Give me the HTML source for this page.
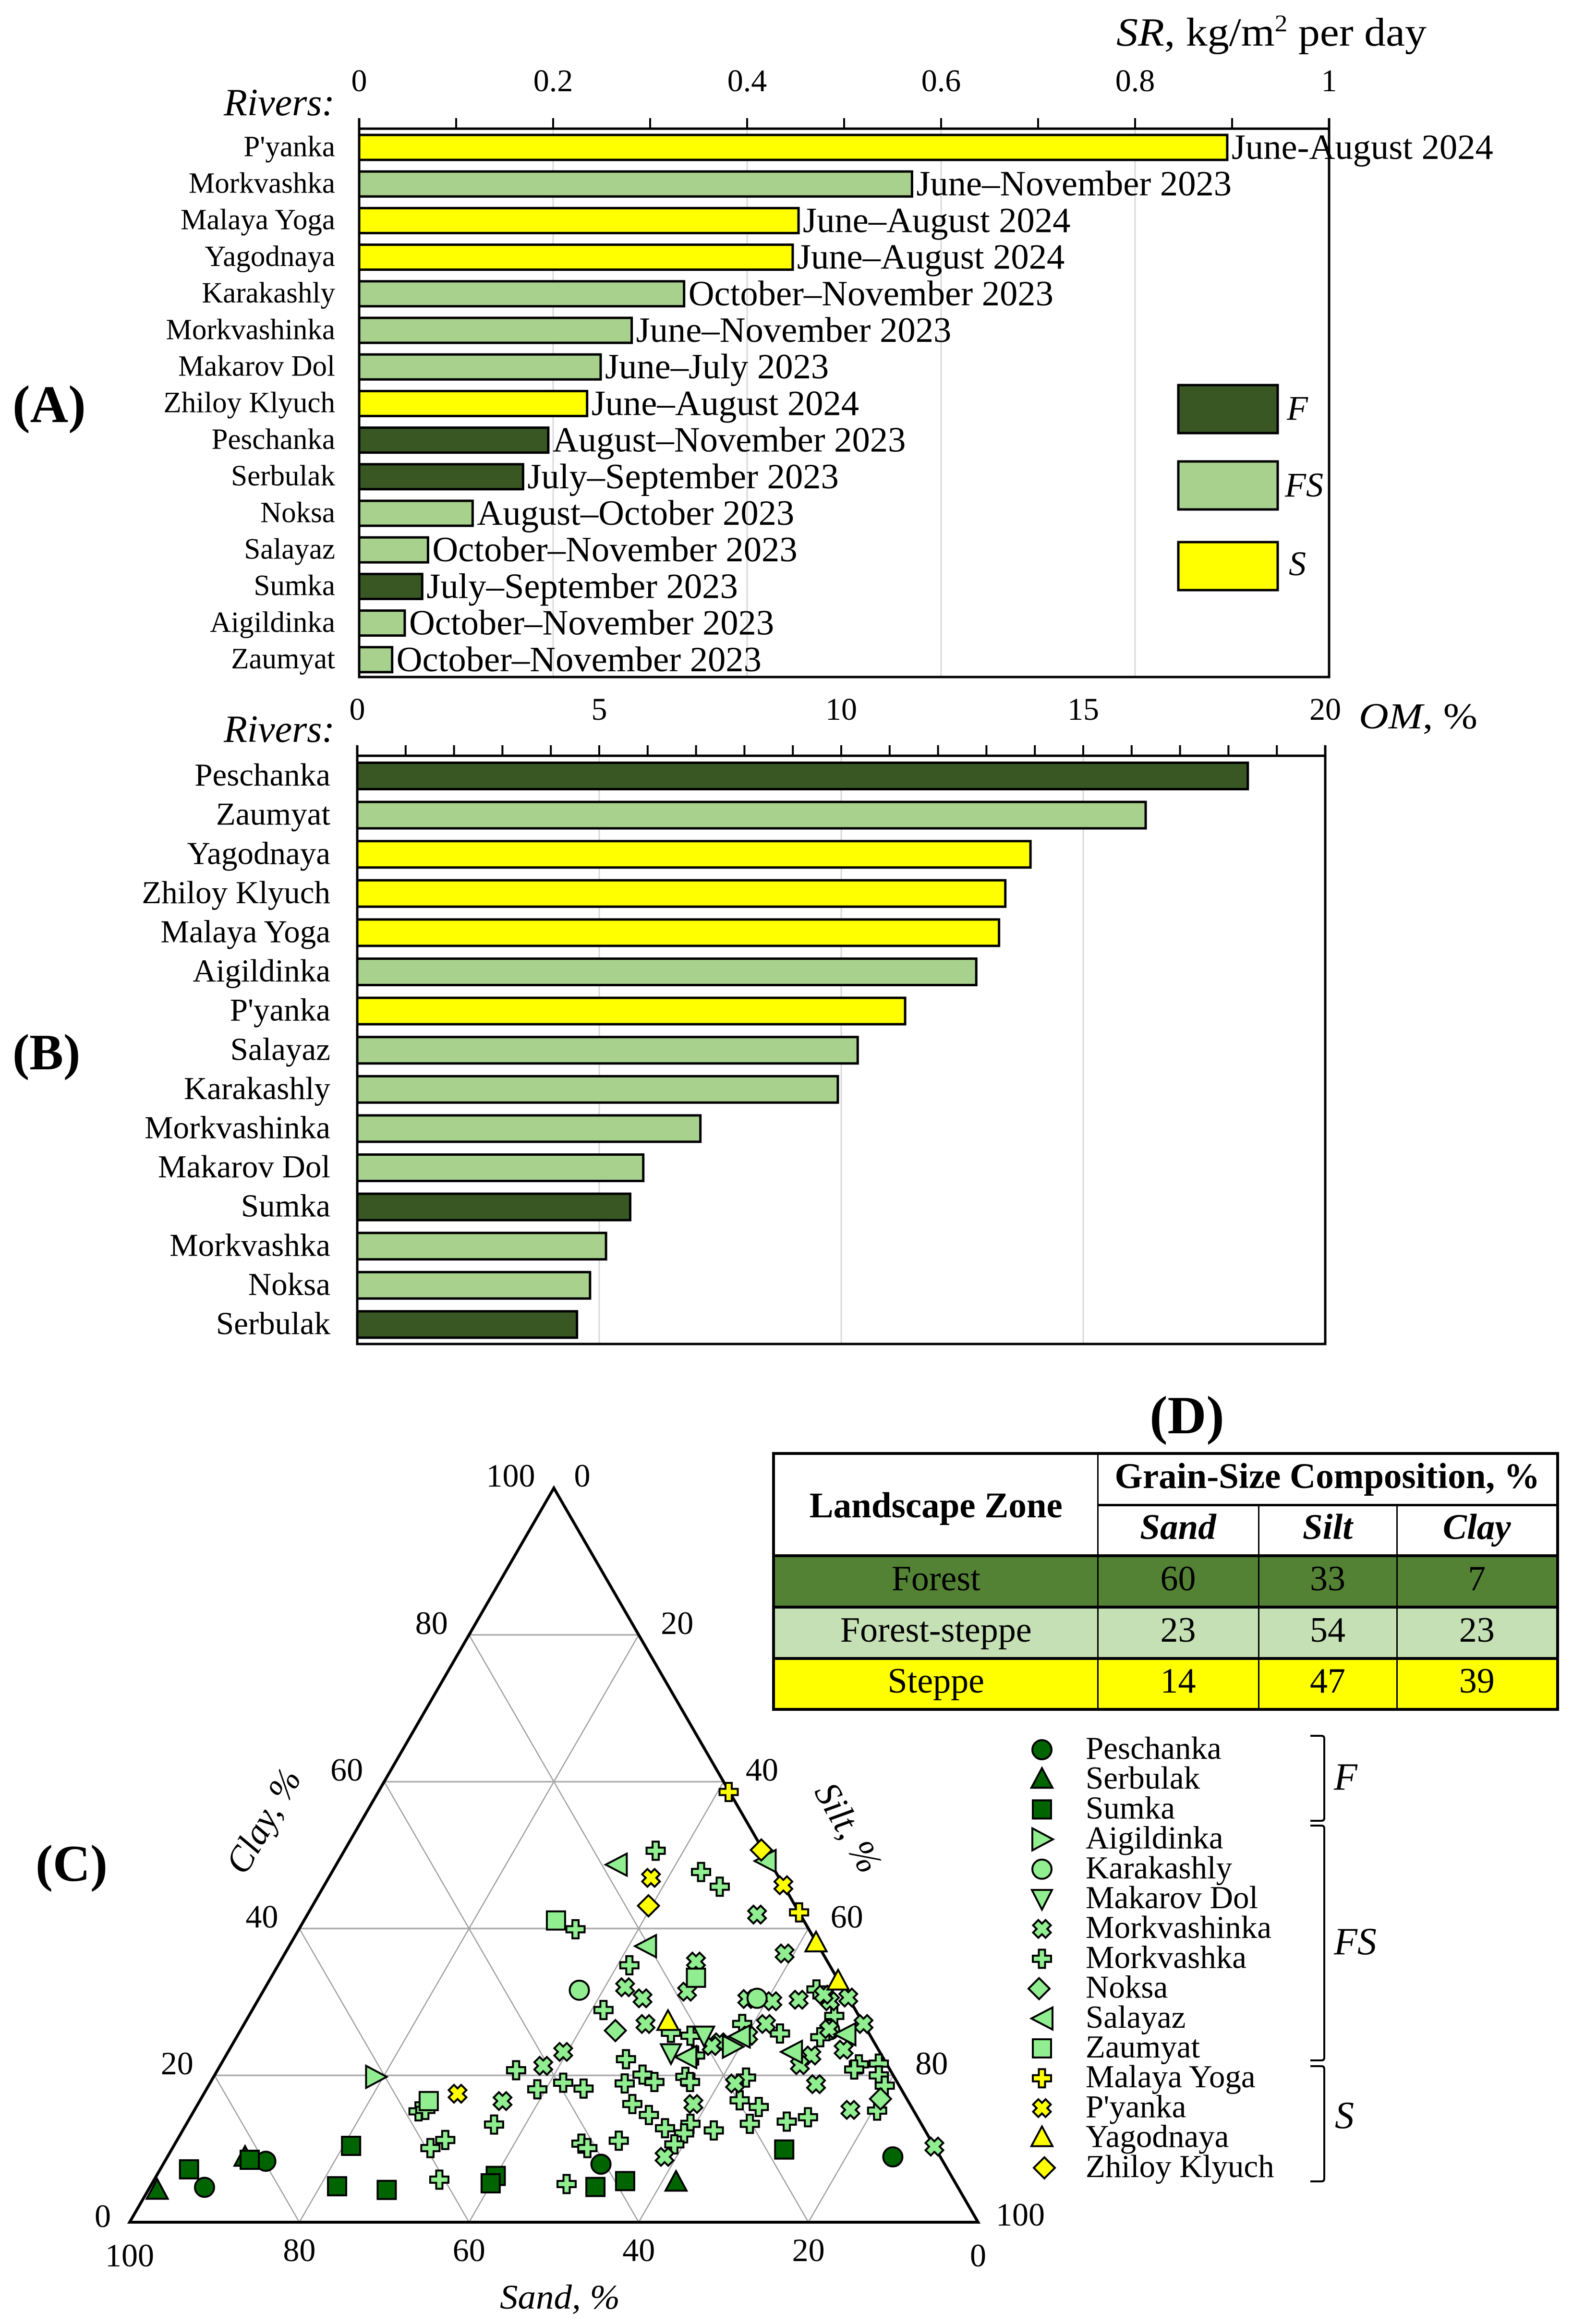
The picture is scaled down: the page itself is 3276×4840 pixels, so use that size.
<!DOCTYPE html>
<html lang="en">
<head>
<meta charset="utf-8">
<title>River sediment charts</title>
<style>
html,body{margin:0;padding:0;background:#fff;}
body{position:relative;width:3276px;height:4840px;overflow:hidden;font-family:"Liberation Serif",serif;color:#000;}
svg{position:absolute;left:0;top:0;}
svg text{font-family:"Liberation Serif",serif;fill:#000;}
table{position:absolute;left:1608px;top:3024px;width:1633px;height:533px;border-collapse:collapse;table-layout:fixed;font-size:74px;line-height:1;text-align:center;}
td,th{padding:0 0 12px 0;border:3px solid #000;overflow:hidden;white-space:nowrap;}
th{font-size:75px;}
table{border:6px solid #000;}
tr.head-row-top td,tr.head-row-top th{border-bottom:5px solid #000;}
tr.head-row-sub th{border-bottom:6px solid #000;}
tr.zone-forest td{background:#548235;border-bottom:6px solid #000;}
tr.zone-fs td{background:#C5E0B4;border-bottom:6px solid #000;}
tr.zone-steppe td{background:#FFFF00;}
</style>
</head>
<body>
<svg id="fig" xmlns="http://www.w3.org/2000/svg" width="3276" height="4840" viewBox="0 0 3276 4840">
  <text x="26" y="879" font-size="110" font-weight="bold">(A)</text>
  <text x="26" y="2227" font-size="106" font-weight="bold">(B)</text>
  <text x="74" y="3917" font-size="108" font-weight="bold">(C)</text>
  <text x="2472" y="2985" font-size="112" font-weight="bold" text-anchor="middle">(D)</text>

  <text x="2325" y="95" font-size="84" textLength="646" lengthAdjust="spacingAndGlyphs"><tspan font-style="italic">SR</tspan>, kg/m<tspan dy="-30" font-size="50">2</tspan><tspan dy="30"> per day</tspan></text>
  <text x="697" y="240" font-size="80" font-style="italic" text-anchor="end">Rivers:</text>
  <text x="2830" y="1517" font-size="76" textLength="247" lengthAdjust="spacingAndGlyphs"><tspan font-style="italic">OM</tspan>, %</text>
  <text x="697" y="1545" font-size="80" font-style="italic" text-anchor="end">Rivers:</text>

  <rect x="2454" y="802" width="207" height="100" fill="#385723" stroke="#000" stroke-width="5"/>
  <rect x="2454" y="961" width="207" height="100" fill="#A9D18E" stroke="#000" stroke-width="5"/>
  <rect x="2454" y="1129" width="207" height="100" fill="#FFFF00" stroke="#000" stroke-width="5"/>
  <text x="2680" y="874" font-size="72" font-style="italic">F</text>
  <text x="2676" y="1034" font-size="72" font-style="italic">FS</text>
  <text x="2684" y="1198" font-size="72" font-style="italic">S</text>

  <text x="1041" y="4808" font-size="72" font-style="italic" textLength="250" lengthAdjust="spacingAndGlyphs">Sand, %</text>
  <text x="570" y="3805" font-size="75" font-style="italic" text-anchor="middle" transform="rotate(-60 570 3805)">Clay, %</text>
  <text x="1745" y="3819" font-size="76" font-style="italic" text-anchor="middle" transform="rotate(60 1745 3819)">Silt, %</text>

  <path d="M2729 3615 H2752 Q2758 3615 2758 3621 V3786 Q2758 3792 2752 3792 H2729" fill="none" stroke="#000" stroke-width="4"/>
  <path d="M2729 3802 H2752 Q2758 3802 2758 3808 V4285 Q2758 4291 2752 4291 H2729" fill="none" stroke="#000" stroke-width="4"/>
  <path d="M2729 4303 H2752 Q2758 4303 2758 4309 V4537 Q2758 4543 2752 4543 H2729" fill="none" stroke="#000" stroke-width="4"/>
  <text x="2778" y="3727" font-size="80" font-style="italic">F</text>
  <text x="2778" y="4070" font-size="80" font-style="italic">FS</text>
  <text x="2780" y="4432" font-size="80" font-style="italic">S</text>
</svg>

<table>
  <colgroup><col style="width:675px"><col style="width:335px"><col style="width:288px"><col style="width:335px"></colgroup>
  <tr class="head-row-top" style="height:107px">
    <th rowspan="2" style="border-bottom:6px solid #000;padding:4px 0 0 0">Landscape Zone</th>
    <th colspan="3">Grain-Size Composition, %</th>
  </tr>
  <tr class="head-row-sub" style="height:106px">
    <th><i>Sand</i></th>
    <th><i>Silt</i></th>
    <th><i>Clay</i></th>
  </tr>
  <tr class="zone-forest" style="height:107px">
    <td>Forest</td>
    <td>60</td>
    <td>33</td>
    <td>7</td>
  </tr>
  <tr class="zone-fs" style="height:107px">
    <td>Forest-steppe</td>
    <td>23</td>
    <td>54</td>
    <td>23</td>
  </tr>
  <tr class="zone-steppe" style="height:106px">
    <td>Steppe</td>
    <td>14</td>
    <td>47</td>
    <td>39</td>
  </tr>
</table>

<script>
// ---- Panel A data ----
const srRivers = ["P'yanka","Morkvashka","Malaya Yoga","Yagodnaya","Karakashly","Morkvashinka","Makarov Dol","Zhiloy Klyuch","Peschanka","Serbulak","Noksa","Salayaz","Sumka","Aigildinka","Zaumyat"];
const srValues = [0.895,0.570,0.453,0.447,0.335,0.281,0.249,0.235,0.195,0.169,0.117,0.071,0.065,0.047,0.034];
const srZones = ["S","FS","S","S","FS","FS","FS","S","F","F","FS","FS","F","FS","FS"];
const srPeriods = ["June-August 2024","June–November 2023","June–August 2024","June–August 2024","October–November 2023","June–November 2023","June–July 2023","June–August 2024","August–November 2023","July–September 2023","August–October 2023","October–November 2023","July–September 2023","October–November 2023","October–November 2023"];
const srTickLabels = ["0","0.2","0.4","0.6","0.8","1"];
const srTickValues = [0,0.2,0.4,0.6,0.8,1];
const srMinorTicks = [0.1,0.3,0.5,0.7,0.9];

// ---- Panel B data ----
const omRivers = ["Peschanka","Zaumyat","Yagodnaya","Zhiloy Klyuch","Malaya Yoga","Aigildinka","P'yanka","Salayaz","Karakashly","Morkvashinka","Makarov Dol","Sumka","Morkvashka","Noksa","Serbulak"];
const omValues = [18.40,16.29,13.91,13.39,13.26,12.79,11.32,10.34,9.93,7.09,5.91,5.64,5.14,4.81,4.54];
const omZones = ["F","FS","S","S","S","FS","S","FS","FS","FS","FS","F","FS","FS","F"];
const omTickLabels = ["0","5","10","15","20"];
const omTickValues = [0,5,10,15,20];
const omMinorTicks = [1,2,3,4,6,7,8,9,11,12,13,14,16,17,18,19];

// ---- Panel C data: sand %, clay % (silt is the remainder) ----
const peschankaSand = [5.6,40.5,88.8,79.8];
const peschankaClay = [8.9,7.9,4.75,8.3];
const serbulakSand = [32.9,94.6,82.0];
const serbulakClay = [5.4,4.3,8.8];
const sumkaSand = [17.9,38.8,42.7,89.4,81.6,68.7,73.1,67.5,53.7,54.8];
const sumkaClay = [9.9,5.6,4.8,7.2,8.5,10.4,4.9,4.4,6.3,5.3];
const aigildinkaSand = [17.0,61.1];
const aigildinkaClay = [23.9,19.8];
const karakashlyUnderSand = [4.4];
const karakashlyUnderClay = [26.2];
const karakashlySand = [31.2,10.8];
const karakashlyClay = [31.6,30.5];
const makarovSand = [19.6,24.7];
const makarovClay = [25.4,23.0];
const morkvashinkaSand = [5.1,4.5,15.5,25.6,24.3,18.6,25.7,37.3,40.6,12.0,9.2,6.0,2.4,2.7,0,0,11.5,14.4,18.2,19.4,4.4,4.1,8.3,10.3,9.7,19.2,25.5,7.4,32.5,0,47.8];
const morkvashinkaClay = [41.9,36.6,35.5,32.0,30.5,31.4,27.0,23.2,21.3,30.4,30.1,30.3,30.1,31.0,30.6,27.0,27.0,25.4,24.5,24.0,26.3,23.5,22.7,21.4,18.8,18.9,16.1,15.3,8.9,10.3,16.5];
const morkvashkaSand = [12.7,8.8,7.6,27.5,23.6,29.7,3.2,2.9,6.0,10.5,14.3,23.3,21.2,22.0,30.4,39.4,37.4,42.9,32.2,29.5,28.6,24.6,24.4,32.7,31.5,30.5,27.2,28.6,30.5,24.9,19.8,17.5,18.0,20.2,15.7,12.9,3.3,4.2,0.9,1.7,1.7,4.3,41.4,41.0,36.8,45.9,58.4,57.5,57.2,59.5,60.6,50.4,44.1];
const morkvashkaClay = [50.6,47.7,45.7,39.9,35.0,28.9,31.7,28.1,25.2,25.7,27.0,25.8,25.4,22.7,22.2,19.0,18.2,18.1,18.9,20.1,19.1,19.8,19.1,16.1,14.6,12.8,13.4,12.1,10.6,12.5,16.6,19.7,15.7,13.4,13.7,14.3,21.5,20.8,21.6,20.0,18.6,15.2,10.7,10.1,11.1,5.2,15.1,15.3,11.2,10.1,5.8,13.3,20.7];
const noksaSand = [29.7,3.1];
const noksaClay = [26.1,16.8];
const salayazSand = [18.3,0.5,20.4,2.9,10.4,23.2,15.5];
const salayazClay = [48.7,49.2,37.6,25.6,23.2,22.5,25.3];
const zaumyatSand = [29.2,16.6,56.5];
const zaumyatClay = [41.1,33.3,16.5];
const malayaSand = [0.1,0];
const malayaClay = [58.6,42.2];
const pyankaSand = [15.1,0,52.6];
const pyankaClay = [46.9,45.9,17.5];
const yagodnayaSand = [0.1,0.1,22.9];
const yagodnayaClay = [38.0,32.8,27.3];
const zhiloySand = [0.2,17.3];
const zhiloyClay = [50.7,43.1];
const ternaryGridValues = [20,40,60,80];
const legendRivers = ["Peschanka","Serbulak","Sumka","Aigildinka","Karakashly","Makarov Dol","Morkvashinka","Morkvashka","Noksa","Salayaz","Zaumyat","Malaya Yoga","P'yanka","Yagodnaya","Zhiloy Klyuch"];
const clayTickLabels = ["100","80","60","40","20","0"];
const siltTickLabels = ["0","20","40","60","80","100"];
const sandTickLabels = ["100","80","60","40","20","0"];

const NS = 'http://www.w3.org/2000/svg';
const fig = document.getElementById('fig');
function mk(tag, attrs, parent) {
  const e = document.createElementNS(NS, tag);
  for (const k in attrs) e.setAttribute(k, attrs[k]);
  (parent || fig).appendChild(e);
  return e;
}
function slug(s) { return s.toLowerCase().replace(/[^a-z0-9]+/g, '-'); }
const zoneFill = {F:'#385723', FS:'#A9D18E', S:'#FFFF00'};

// ---- generic horizontal bar panel ----
function drawBarPanel(cfg) {
  const sx = v => cfg.x0 + (v / cfg.max) * (cfg.x1 - cfg.x0);
  const rowY = i => cfg.firstY + i * cfg.step;
  cfg.ticks.forEach(v => {
    if (v === 0 || v === cfg.max) return;
    const g = mk('line', {x1:sx(v), x2:sx(v), y1:cfg.axisY, y2:cfg.bottom, stroke:'#D9D9D9', 'stroke-width':3});
    
    
  });
  cfg.ticks.concat(cfg.minor).forEach(v => {
    const t = mk('line', {x1:sx(v), x2:sx(v), y1:cfg.tickTop, y2:cfg.axisY, stroke:'#000', 'stroke-width':4});
    
    
  });
  cfg.ticks.forEach((v, i) => {
    const l = mk('text', {x:sx(v), y:cfg.tickY, 'font-size':66, 'text-anchor':'middle'});
    l.textContent = cfg.tickLabels[i];
    
    
  });
  const box = mk('path', {d:`M${cfg.x0} ${cfg.tickTop} V${cfg.bottom} H${cfg.x1} V${cfg.tickTop} M${cfg.x0} ${cfg.axisY} H${cfg.x1}`, fill:'none', stroke:'#000', 'stroke-width':5});
  
  
  cfg.rivers.forEach((name, i) => {
    const cy = rowY(i);
    const b = mk('rect', {x:cfg.x0, y:cy - cfg.barH / 2, width:sx(cfg.values[i]) - cfg.x0, height:cfg.barH, fill:zoneFill[cfg.zones[i]], stroke:'#000', 'stroke-width':5});
    
    
    const l = mk('text', {x:cfg.labelX, y:cy + cfg.labelSize * 0.3, 'font-size':cfg.labelSize, 'text-anchor':'end'});
    l.textContent = name;
    
    
    if (cfg.periods) {
      const p = mk('text', {x:sx(cfg.values[i]) + 9, y:cy + 24, 'font-size':74.6});
      p.textContent = cfg.periods[i];
      
      
    }
  });
}
drawBarPanel({prefix:'sr', x0:748, x1:2768, max:1, axisY:268, tickTop:246, bottom:1410, tickY:190, firstY:307, step:76.2, barH:52, labelX:698, labelSize:61, rivers:srRivers, values:srValues, zones:srZones, periods:srPeriods, ticks:srTickValues, minor:srMinorTicks, tickLabels:srTickLabels});
drawBarPanel({prefix:'om', x0:744, x1:2760, max:20, axisY:1574, tickTop:1552, bottom:2799, tickY:1499, firstY:1616, step:81.6, barH:55, labelX:688, labelSize:67, rivers:omRivers, values:omValues, zones:omZones, periods:null, ticks:omTickValues, minor:omMinorTicks, tickLabels:omTickLabels});

// ---- ternary axes ----
const TL = 270, TR = 2037, TBASE = 4628, TAPEX = 3099;
const tx = (sand, clay) => TL + (TR - TL) / 100 * (100 - sand - clay / 2);
const ty = clay => TBASE - (TBASE - TAPEX) / 100 * clay;
ternaryGridValues.forEach(v => {
  const h = mk('line', {x1:tx(100 - v, v), y1:ty(v), x2:tx(0, v), y2:ty(v), stroke:'#AEAEAE', 'stroke-width':3.5});
  
  
  const s = mk('line', {x1:tx(v, 0), y1:ty(0), x2:tx(v, 100 - v), y2:ty(100 - v), stroke:'#A0A0A0', 'stroke-width':2.5});
  
  
  const t = mk('line', {x1:tx(100 - v, 0), y1:ty(0), x2:tx(0, 100 - v), y2:ty(100 - v), stroke:'#A0A0A0', 'stroke-width':2.5});
  
  
});
const frame = mk('polygon', {points:`${tx(100,0)},${ty(0)} ${tx(0,0)},${ty(0)} ${tx(0,100)},${ty(100)}`, fill:'none', stroke:'#000', 'stroke-width':6, 'stroke-linejoin':'miter'});



// tick labels placed from the axis functions with fixed offsets
clayTickLabels.forEach((lab, i) => {
  const c = 100 - i * 20;
  const e = mk('text', {x:tx(100 - c, c) - (c === 0 ? 56 : (c === 100 ? 90 : 78)), y:ty(c) + (c === 0 ? 10 : (c === 100 ? -3 : -2)), 'font-size':68, 'text-anchor':'middle'});
  e.textContent = lab;
  
  
});
siltTickLabels.forEach((lab, i) => {
  const silt = i * 20, c = 100 - silt;
  const e = mk('text', {x:tx(0, c) + (silt === 0 ? 59 : (silt === 100 ? 88 : 80)), y:ty(c) + (silt === 0 ? -3 : (silt === 100 ? 7 : -2)), 'font-size':68, 'text-anchor':'middle'});
  e.textContent = lab;
  
  
});
sandTickLabels.forEach((lab, i) => {
  const sand = 100 - i * 20;
  const e = mk('text', {x:tx(sand, 0), y:TBASE + ((sand === 100 || sand === 0) ? 92 : 81), 'font-size':68, 'text-anchor':'middle'});
  e.textContent = lab;
  
  
});

// ---- marker shapes ----
const markerPaths = {
  square: 'M-19 -19H19V19H-19Z',
  up: 'M0 -24L22 17H-22Z',
  down: 'M-21 -19H21L0 22Z',
  right: 'M-20 -23L23 0L-20 23Z',
  left: 'M22 -23V23L-22 0Z',
  diamond: 'M0 -22L22 0L0 22L-22 0Z',
  plus: 'M-6.5 -19H6.5V-6.5H19V6.5H6.5V19H-6.5V6.5H-19V-6.5H-6.5Z',
  cross: 'M-7.5 -18.5L0 -11L7.5 -18.5L18.5 -7.5L11 0L18.5 7.5L7.5 18.5L0 11L-7.5 18.5L-18.5 7.5L-11 0L-18.5 -7.5Z'
};
function marker(kind, fill, cx, cy, parent) {
  if (kind === 'circle') return mk('circle', {cx:cx, cy:cy, r:20, fill:fill, stroke:'#000', 'stroke-width':4}, parent);
  return mk('path', {d:markerPaths[kind], transform:`translate(${cx} ${cy})`, fill:fill, stroke:'#000', 'stroke-width':4, 'stroke-linejoin':'miter'}, parent);
}
const DARK = '#006400', LIGHT = '#90EE90', YEL = '#FFFF00';
function plotSeries(name, sand, clay, kind, fill) {
  const g = mk('g', {});
  
  
  sand.forEach((s, i) => {
    const m = marker(kind, fill, tx(s, clay[i]), ty(clay[i]), g);
    
    
  });
}
plotSeries('Karakashly', karakashlyUnderSand, karakashlyUnderClay, 'circle', LIGHT);
plotSeries('Morkvashka', morkvashkaSand, morkvashkaClay, 'plus', LIGHT);
plotSeries('Noksa', noksaSand, noksaClay, 'diamond', LIGHT);
plotSeries('Morkvashinka', morkvashinkaSand, morkvashinkaClay, 'cross', LIGHT);
plotSeries('Salayaz', salayazSand, salayazClay, 'left', LIGHT);
plotSeries('Makarov Dol', makarovSand, makarovClay, 'down', LIGHT);
plotSeries('Aigildinka', aigildinkaSand, aigildinkaClay, 'right', LIGHT);
plotSeries('Karakashly', karakashlySand, karakashlyClay, 'circle', LIGHT);
plotSeries('Zaumyat', zaumyatSand, zaumyatClay, 'square', LIGHT);
plotSeries('Malaya Yoga', malayaSand, malayaClay, 'plus', YEL);
plotSeries("P'yanka", pyankaSand, pyankaClay, 'cross', YEL);
plotSeries('Zhiloy Klyuch', zhiloySand, zhiloyClay, 'diamond', YEL);
plotSeries('Yagodnaya', yagodnayaSand, yagodnayaClay, 'up', YEL);
plotSeries('Peschanka', peschankaSand, peschankaClay, 'circle', DARK);
plotSeries('Serbulak', serbulakSand, serbulakClay, 'up', DARK);
plotSeries('Sumka', sumkaSand, sumkaClay, 'square', DARK);

// ---- legend ----
const legendKinds = ['circle','up','square','right','circle','down','cross','plus','diamond','left','square','plus','cross','up','diamond'];
const legendFills = [DARK,DARK,DARK,LIGHT,LIGHT,LIGHT,LIGHT,LIGHT,LIGHT,LIGHT,LIGHT,YEL,YEL,YEL,YEL];
legendRivers.forEach((name, i) => {
  const base = 3663 + i * 62.2;
  const mx = name === 'Noksa' ? 2164 : (name === 'Zhiloy Klyuch' ? 2175 : 2170);
  const m = marker(legendKinds[i], legendFills[i], mx, base - 19);
  
  
  const t = mk('text', {x:2261, y:base, 'font-size':67});
  t.textContent = name;
  
  
});
</script>
</body>
</html>
